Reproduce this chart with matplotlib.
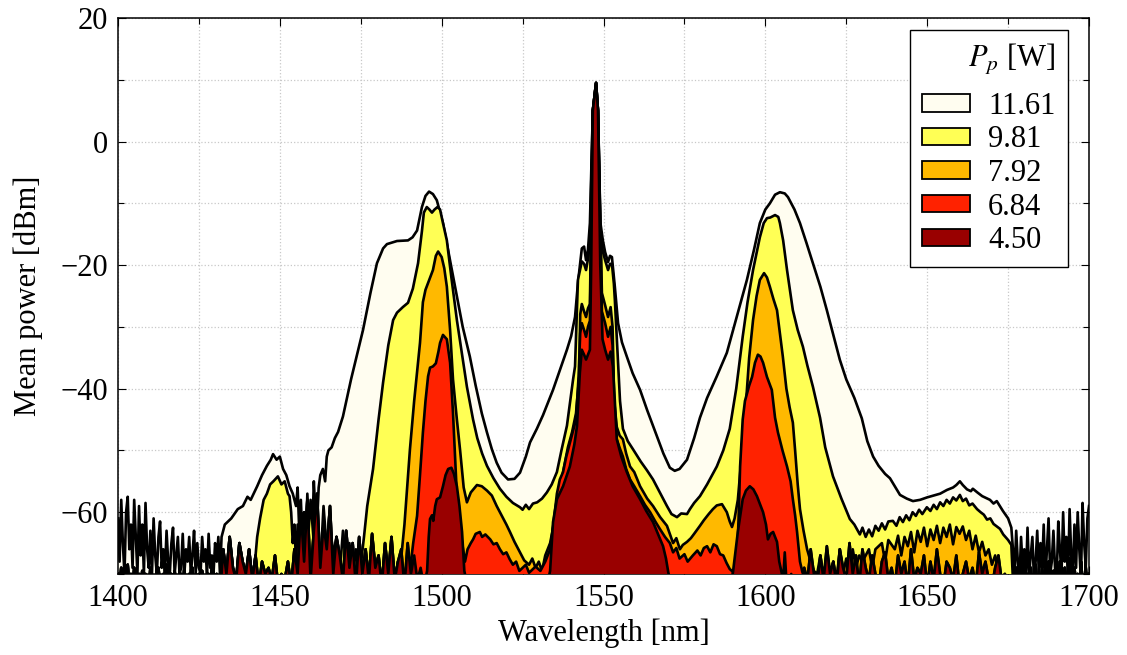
import numpy as np
import matplotlib
matplotlib.use("Agg")
import matplotlib.pyplot as plt
from matplotlib.patches import Patch
from matplotlib.ticker import MultipleLocator

plt.rcParams['font.family'] = ['Liberation Serif', 'DejaVu Serif']
plt.rcParams['mathtext.fontset'] = 'stix'
plt.rcParams['axes.unicode_minus'] = True

# pump powers and fill colours (largest drawn first, at the back)
powers = ['11.61', '9.81', '7.92', '6.84', '4.50']
colors = ['#FFFDF0', '#FFFF55', '#FFB900', '#FF2200', '#990000']

# noise floor pieces (dBm)
noise_left = [-61, -68, -58, -65, -70, -60, -57.5, -66, -62, -69, -58, -64, -70, -59, -67, -62,
              -70, -58.5, -66, -69, -63, -70, -61, -67, -70, -64, -61.5, -69, -66, -70, -63, -68,
              -70, -65, -62.5, -70, -67, -64, -70, -69, -63.5, -70, -66, -68, -64, -70, -67, -63,
              -70, -65, -69, -70, -64, -68, -66, -70, -63.5, -69, -67, -70, -65, -68, -64, -70, -66]
noise_left_low = [-70, -72, -69, -71, -73, -70, -68.5, -72, -70, -73, -69, -71, -73, -70, -72, -69.5,
                  -73, -70, -71.5, -73, -69, -72, -70.5, -73, -71, -69, -72, -73, -70, -72, -68.5, -73,
                  -71, -70, -73, -69.5, -72, -71, -73, -70, -72, -69, -73, -71, -70, -72.5, -69, -73,
                  -71, -72, -70, -73, -69.5, -72, -71, -73, -70, -72, -69, -73, -71, -70, -72, -73, -70]
floor_l = [-66, -70, -64, -69, -71, -65, -68, -70, -66, -71, -67, -72, -68, -70, -69, -71,
           -67, -72, -70, -71, -68, -72, -66, -70, -60, -68, -58, -71, -63, -57, -69, -62,
           -66, -59, -70, -64, -67, -71, -63, -69, -65, -72, -64, -70, -66, -71, -63.5, -69,
           -67, -72, -65, -70, -64, -71, -68, -66, -72, -65, -70, -67, -71, -69, -72]
floor_r = [-71, -72, -70, -72, -71, -72, -69, -71, -66, -70, -72, -67, -71, -65.5, -70, -68,
           -72, -66, -69, -71, -65, -70, -67, -72, -66, -69, -71, -67, -70, -72, -68, -66.5,
           -71, -69, -72, -67, -70, -68, -72, -66, -71, -69, -70, -67, -72, -68, -71, -66,
           -70, -72, -68, -69, -71, -67, -72, -70, -68, -71, -69, -72, -66.5, -70, -68, -71,
           -72, -69, -67, -71, -70, -72]
noise_right = [-66, -70, -63, -68, -71, -64, -69, -66, -71, -62.5, -70, -67, -64, -71, -68, -63,
               -70, -65, -69, -62, -71, -66, -61, -70, -68, -63, -69, -71, -61.5, -66, -70, -60,
               -68, -64, -71, -59.5, -67, -70, -62, -69, -60, -66, -71, -58.5, -65, -69, -61, -59]
noise_right_low = [-71, -73, -69, -72, -70, -73, -68, -71, -73, -70, -72, -69, -73, -71, -68.5, -72,
                   -70, -73, -69, -72, -71, -73, -68, -71, -72, -69.5, -73, -70, -72, -68, -71, -73,
                   -69, -72, -70, -67.5, -73, -71, -69, -72, -70, -73, -68, -71, -72, -69, -73, -70]

noise_left_x = 1400 + 0.5 * np.arange(len(noise_left))
floor_l_x = 1432.5 + np.arange(len(floor_l))
floor_r_x = 1606 + np.arange(len(floor_r))
noise_right_x = 1676.5 + 0.5 * np.arange(len(noise_right))

# main parts of each spectrum: wavelength [nm], mean power [dBm]
p1161_x = [1432, 1433, 1435, 1437, 1438.6, 1440, 1441, 1443, 1444.5, 1446, 1447.2, 1447.9, 1449, 1450,
           1451, 1452, 1453, 1454, 1455, 1455.5, 1456, 1456.5, 1457, 1457.5, 1458, 1458.5, 1459, 1459.5,
           1460, 1460.5, 1461, 1461.5, 1462, 1462.5, 1463.3, 1464, 1464.5, 1465, 1466, 1467, 1468, 1469.5,
           1472, 1475.7, 1478, 1480, 1481.9, 1483.1, 1486.2, 1489.6, 1491, 1492.4, 1493.9, 1495, 1496.1,
           1497.3, 1498.5, 1500.4, 1502.5, 1504.7, 1506.5, 1508.7, 1510.5, 1512.4, 1514, 1515.5, 1517,
           1518.5, 1520.5, 1522.5, 1524.2, 1526, 1527.3, 1529.4, 1531.3, 1534.4, 1536.5, 1538.7, 1540,
           1541.2, 1542.1, 1543.3, 1544, 1544.6, 1545.2, 1545.8, 1546.7, 1547.7, 1548.3, 1549, 1549.8,
           1550.5, 1551.4, 1552, 1552.6, 1553.5, 1554.5, 1555.7, 1557.2, 1559, 1561.3, 1563.5, 1566.5,
           1568.5, 1570.5, 1572, 1573.5, 1575.8, 1578, 1579.8, 1582, 1585, 1588.1, 1591, 1594.3, 1596.5,
           1598.3, 1600, 1601.4, 1603, 1604.5, 1606, 1607, 1609, 1610.7, 1612.7, 1614.7, 1617, 1619, 1621,
           1623, 1625, 1627.5, 1629.8, 1631.5, 1633.3, 1635, 1637, 1638.5, 1640, 1641.6, 1643.7, 1645.6,
           1647.8, 1650, 1652, 1654, 1656.1, 1658, 1659, 1660.1, 1661, 1662.3, 1663.5, 1664.1, 1665.5, 1667,
           1669.4, 1670.5, 1671.5, 1673.4, 1675, 1676]
p1161_y = [-64, -62, -61, -59.5, -59, -57.5, -58, -55.8, -54, -52.5, -51.5, -50.6, -51.5, -51,
           -53, -54, -55.8, -57, -59, -56, -63, -58, -65, -60, -66, -57, -63, -61,
           -64, -55, -60, -62, -56, -54, -53, -55, -51, -50, -49.5, -48, -47, -44.5,
           -38.5, -30.5, -24.5, -19.7, -17.3, -16.6, -16.1, -16.0, -15.5, -14.4, -10.6, -8.8, -8.1,
           -8.5, -9.5, -13.2, -19, -25.1, -30, -34.8, -39.5, -44.0, -47.1, -49.8, -52,
           -53.6, -54.7, -54.6, -53.6, -51, -48.7, -46.5, -44.3, -40.2, -37, -33.7, -31.5,
           -28.4, -22.9, -17.3, -17.0, -19.2, -17.5, -13.2, 5, 9.5, 5, -13, -16,
           -17.9, -19.5, -18.5, -18.7, -23.5, -29.4, -32.5, -34.8, -37.5, -40.2, -43.5, -47.7,
           -50.5, -52.8, -53.3, -53, -51.5, -48, -44.7, -41.5, -38, -34.2, -28.7, -22.4, -17.5,
           -13.2, -11, -10, -8.6, -8.2, -8.4, -9, -11, -13.2, -16.4, -19.7, -23.5, -27.3, -31.3,
           -35.3, -38.5, -41.5, -44.8, -48.5, -51, -52.5, -53.8, -54.5, -55.8, -57.2, -57.8, -58.2,
           -58.0, -57.6, -57.3, -57.0, -56.4, -56.0, -55.6, -55.0, -55.6, -56.3, -56.6, -56.2, -56.8, -57.4,
           -58.0, -58.6, -58.2, -59.8, -61, -62.5]

p981_x = [1443, 1443.9, 1445, 1446, 1447, 1448, 1449.4, 1450.5, 1451.5, 1452.5, 1453, 1453.5, 1454,
          1454.5, 1455, 1455.5, 1456.5, 1457.5, 1458.5, 1459.5, 1460.5, 1461.5, 1462.5, 1463.5, 1464.5,
          1465.5, 1466.5, 1467.5, 1468.5, 1469.5, 1470.5, 1471.5, 1472.5, 1473.5, 1474.3, 1474.8, 1476,
          1477, 1478.8, 1480.5, 1481.9, 1483.5, 1485, 1486.2, 1488, 1489.6, 1491.1, 1492.7, 1493.9,
          1494.5, 1495.4, 1496.2, 1497, 1497.8, 1498.7, 1499.5, 1500.4, 1501.6, 1503, 1504.7, 1506.3,
          1507.8, 1509.7, 1511, 1512.5, 1514, 1516, 1518, 1520, 1522, 1524.2, 1525, 1526, 1527, 1528.2,
          1529.5, 1531, 1532.5, 1534, 1535.6, 1537, 1538.7, 1540.6, 1541.2, 1541.8, 1542.1, 1543.3, 1544,
          1544.6, 1545.2, 1545.8, 1546.7, 1547.7, 1548.3, 1549, 1549.8, 1550.5, 1551.4, 1552, 1552.6,
          1553.2, 1553.5, 1554.5, 1555.1, 1556, 1557.5, 1559.1, 1561.5, 1563.4, 1565.3, 1567.4, 1569.6,
          1571, 1572.7, 1574, 1575.8, 1576.7, 1578, 1579.8, 1582, 1585, 1587, 1589, 1591, 1593, 1594.5,
          1596.2, 1598.3, 1599.5, 1600.5, 1601.5, 1603, 1604, 1604.5, 1605.5, 1606.7, 1608.5, 1610,
          1611.6, 1613, 1614.7, 1616.9, 1618.5, 1620.9, 1623.5, 1626.1, 1627.5, 1629.2, 1630, 1631, 1632,
          1633, 1634, 1635, 1636, 1637, 1638, 1639.4, 1640.5, 1641.5, 1642.5, 1643.5, 1644.5, 1645.5,
          1646.5, 1647.5, 1648.5, 1649.9, 1651, 1652, 1653, 1654, 1655, 1656, 1657, 1658, 1659, 1660.1,
          1661, 1662, 1663, 1664, 1665.4, 1666.5, 1667.5, 1668.5, 1669.5, 1670.5, 1671.5, 1672.5, 1673.5,
          1675, 1676]
p981_y = [-64, -61, -58, -57, -55.5, -55, -54.2, -55.5, -55, -57, -57.4, -60, -65,
          -62, -68, -62, -68, -60, -66, -58, -65, -61, -69, -59, -66,
          -62, -67, -64, -70, -63, -69, -65, -70, -66, -70, -69.5, -64,
          -59, -53, -45, -39, -33, -28.9, -27.7, -26.8, -26.1, -23.8, -19.7, -14.5,
          -11.5, -10.6, -11, -11.5, -11, -10.6, -11, -13.2, -16, -22, -28.9, -34.5,
          -39.7, -45, -48, -50.5, -52.5, -54.5, -56.2, -57.5, -58.5, -59.2, -59.6, -58.8, -59.5, -58.6,
          -58.4, -57.8, -56.8, -55.5, -53.5, -50, -46, -38.5, -36.4, -27, -22.4, -19.4, -19.8,
          -20.8, -19, -16.5, 5, 9.5, 5, -15, -17.8, -19.2, -20.8, -19.8, -19.8,
          -23, -25.6, -35.8, -42, -46.5, -48.5, -49.8, -51.8, -53.2, -54.7, -56.8, -59,
          -60.3, -60.8, -60.2, -60.3, -59.5, -58.5, -57.4, -55.5, -52.6, -50, -46.5, -40, -31.6, -26,
          -20.8, -15.5, -13.2, -12.4, -12.3, -11.9, -12.2, -13.2, -16, -20.8, -27.3, -30.5,
          -33.2, -36.3, -39.7, -44.7, -49.5, -54.2, -57.8, -61.1, -62, -63.6, -62.5, -64, -62.8,
          -63.9, -62.2, -63, -61.8, -62.8, -61.5, -61.4, -62.2, -60.8, -61.6, -60.5, -61.3, -60.0,
          -60.6, -59.6, -60.3, -59.2, -59.8, -58.8, -59.5, -58.4, -59.0, -58.0, -58.6, -57.6, -58.1, -57.2,
          -58.2, -57.8, -58.9, -58.6, -59.5, -60, -60.4, -61.2, -61, -61.9, -62.3, -62.7, -63.6,
          -64.5, -65.3]

p792_x = [1487.1, 1488.5, 1490.2, 1491.5, 1493.3, 1494.2, 1495, 1495.8, 1497.3, 1498.2, 1498.9, 1500,
          1500.8, 1501.6, 1502.6, 1503.5, 1504.7, 1505.7, 1506.8, 1507.8, 1509, 1510.9, 1512.4, 1514,
          1515.5, 1517, 1518.5, 1520, 1521.1, 1522.5, 1524.2, 1525.5, 1527, 1528, 1529, 1530, 1531, 1532,
          1533.5, 1535, 1536.5, 1537.5, 1539, 1540.3, 1541.5, 1542.5, 1542.8, 1543.3, 1544, 1544.6,
          1545.2, 1545.8, 1546.7, 1547.7, 1548.3, 1549.5, 1550.5, 1551.4, 1552.2, 1552.8, 1553.3, 1554.1,
          1555, 1556, 1557, 1558.2, 1559.5, 1561.3, 1563.5, 1565.3, 1567.5, 1569.6, 1571.5, 1572.5,
          1573.6, 1574.5, 1575.8, 1577, 1578, 1579.8, 1581, 1582.5, 1583.8, 1585, 1586.6, 1588.1, 1589,
          1589.7, 1590.5, 1591.5, 1592.5, 1593.7, 1595, 1596.2, 1597.3, 1598.3, 1599.6, 1600.5, 1601.4,
          1602.5, 1603.6, 1604.5, 1605.4, 1606.5, 1607.5, 1608.5, 1609.2, 1610, 1610.7, 1611.8, 1612.9,
          1614, 1615, 1616, 1617, 1618, 1619, 1620, 1621, 1622, 1623, 1624, 1625, 1626, 1627, 1628, 1629,
          1630, 1632, 1633, 1634, 1636, 1637, 1638, 1640, 1641, 1642, 1643, 1644, 1645, 1646, 1647,
          1648, 1649, 1650, 1651, 1652, 1653, 1654, 1655, 1656, 1657, 1658, 1659, 1660, 1661, 1662,
          1663, 1664, 1665, 1666, 1667, 1668, 1669, 1670, 1671, 1672]
p792_y = [-69.5, -62, -49.8, -42, -32.6, -26, -24, -22.9, -20.8, -18.5, -17.8, -18.7,
          -20.5, -23.5, -30.5, -38.5, -45, -50, -56, -58.4, -56.8, -55.6, -55.8, -56.5,
          -57.3, -59, -60.5, -62, -63.2, -64.8, -66.5, -67.8, -68.5, -67.5, -69, -68, -69.5, -67,
          -65, -61, -56.5, -53.5, -49.5, -47, -44, -38, -28, -26.3, -27.5, -28.4,
          -27, -26.3, 5, 9.5, 5, -24.5, -26.5, -28.4, -26.8, -30, -42, -46.2,
          -47.6, -48.2, -50.5, -52.6, -53.5, -55.8, -57.8, -59, -60.8, -62.2, -65, -64.2,
          -66, -65.3, -64.8, -64.2, -63.5, -62.2, -61.3, -60.3, -59.5, -58.9, -58.7, -60, -61.5,
          -62.4, -61, -58, -52, -44.7, -35, -28.9, -25, -22.4, -21.3, -22, -23.5,
          -25.5, -27.3, -31, -34.8, -40, -43, -45.5, -50, -55.5, -59.5, -63, -66,
          -68, -69.5, -70, -67, -71, -66.5, -70, -68, -71, -66, -70, -67.5, -71, -66, -69, -67,
          -68, -66, -69, -66, -65, -68, -64.5, -66, -63.8, -67, -64, -65.5, -63.2, -66.5, -63,
          -64.8, -62.5, -65.5, -62.8, -64.5, -62.2, -65, -62.5, -64, -62, -65.2, -62.4, -63.5, -62.3, -64.5,
          -63, -66, -63.8, -66.5, -64.8, -67, -66, -68.5, -67, -69.5]

p684_x = [1490.2, 1491.2, 1492.4, 1493.3, 1494.2, 1495, 1495.8, 1496.4, 1497.3, 1498.2, 1499, 1499.5,
          1500.4, 1501.6, 1502.6, 1503.5, 1504.3, 1505, 1506.3, 1507.2, 1508, 1509, 1509.7, 1510.5,
          1511.8, 1512.5, 1513.5, 1515, 1516, 1517, 1518, 1519, 1520, 1521, 1522, 1523, 1524, 1526, 1527,
          1529, 1530.5, 1532, 1533.5, 1534.5, 1535.6, 1536.5, 1537.5, 1538.5, 1540, 1541.5, 1542.3,
          1542.8, 1543.3, 1544, 1544.6, 1545.2, 1545.8, 1546.7, 1547.7, 1548.3, 1549.5, 1550.5, 1551.4,
          1552.2, 1552.8, 1553.3, 1554.1, 1555, 1556, 1557, 1558.2, 1559.5, 1561.3, 1562.8, 1564.4, 1566,
          1567.4, 1569, 1570.5, 1571.5, 1572.5, 1573.5, 1575, 1576, 1577.6, 1579, 1580, 1581, 1582, 1583,
          1584, 1585, 1586, 1587, 1588, 1589, 1590.3, 1591.2, 1591.8, 1592.2, 1593, 1593.7, 1595, 1595.9,
          1596.8, 1597.7, 1598.5, 1599.3, 1600.5, 1602, 1603, 1603.9, 1605.3, 1606.7, 1607.8, 1608.5,
          1609.2, 1609.8, 1610.7, 1611.5]
p684_y = [-69.5, -65, -60.6, -54, -47.1, -42, -38, -36.6, -36.4, -35.9, -34, -32.6,
          -31.3, -32, -35.8, -43.9, -53, -60.6, -64.9, -68, -66, -65, -64.4, -63.5,
          -63.2, -64, -63.6, -64.4, -65.2, -65, -66, -66.8, -66.5, -67.6, -68.5, -68, -69.5, -68.5, -69.8,
          -68.8, -69.5, -68, -66, -62, -57, -54.7, -53.5, -51, -48, -45, -38,
          -31, -29.4, -30.5, -31.6, -30, -29, 5, 9.5, 5, -27.5, -29.4, -31.6,
          -30, -33, -44, -48.2, -49.6, -51, -53, -54.7, -55.8, -57.4, -58.8, -60, -61.5,
          -62.7, -64, -65, -66.5, -65.8, -67.5, -66.8, -68, -67, -66.2, -67, -65.8, -65.5, -66.5,
          -65.2, -65.5, -66.8, -67, -68.2, -69.2, -69.8, -68.5, -60, -52.6, -45, -42, -39.5, -38.1,
          -35.8, -34.5, -34.8, -35.8, -38.1, -40.2, -44.7, -47.1, -50, -52.6, -55, -57.9,
          -60.5, -63.2, -68, -69.8]

p450_x = [1495.5, 1496, 1496.4, 1497, 1497.4, 1498, 1498.5, 1499.5, 1500.4, 1501.2, 1502, 1503,
          1503.8, 1504.7, 1505.5, 1506.3, 1507, 1508, 1532.5, 1533.5, 1534.4, 1535.6, 1537.5, 1539.6,
          1541, 1541.8, 1542.7, 1543.3, 1544, 1544.6, 1545.2, 1545.8, 1546.2, 1546.7, 1547.7, 1548.3,
          1549, 1549.7, 1550.5, 1551.4, 1552.2, 1552.9, 1553.5, 1554.1, 1555.5, 1557.2, 1559, 1561.3,
          1563.2, 1565.3, 1566.8, 1568.4, 1569.3, 1570, 1571, 1589, 1590, 1591.5, 1593, 1594, 1595.2,
          1596.3, 1597.4, 1599.3, 1600.2, 1600.8, 1601.6, 1602.4, 1603.6, 1604.3, 1605, 1605.5, 1606,
          1606.5]
p450_y = [-69.5, -64, -61.1, -60.5, -61.4, -59, -57.9, -57.6, -55.8, -54, -53, -52.8,
          -53.8, -55.8, -59, -63.2, -69.5, -72, -72, -69.5, -61.6, -57.9, -55.8, -52.6,
          -49, -46.1, -37.4, -33.7, -34.5, -35.3, -34.5, -33.7, -20, 5, 9.5, 5,
          -20, -32, -33.7, -35.3, -34, -36.4, -42, -48.2, -51, -53.5, -55.8, -57.9,
          -59.8, -61.6, -63.5, -65.5, -67.5, -69.7, -72, -72, -69.7, -63.2, -57.9, -56.5, -55.8,
          -56.3, -57.4, -60, -62, -64.4, -63.5, -63.2, -64.8, -68, -69.7, -71, -66.5,
          -71]


def build(main_x, main_y, low=False):
    # noise floor before and after the main part of a spectrum
    left = noise_left_low if low else noise_left
    right = noise_right_low if low else noise_right
    fx = np.concatenate([noise_left_x, floor_l_x, floor_r_x, noise_right_x])
    fy = np.concatenate([left, floor_l, floor_r, right])
    before = fx < main_x[0]
    after = fx > main_x[-1]
    x = np.concatenate([fx[before], main_x, fx[after]])
    y = np.concatenate([fy[before], main_y, fy[after]])
    return x, y


spectra = [build(p1161_x, p1161_y), build(p981_x, p981_y, low=True), build(p792_x, p792_y, low=True),
           build(p684_x, p684_y, low=True), build(p450_x, p450_y, low=True)]

fig = plt.figure(figsize=(11.27, 6.55), dpi=100)
ax = fig.add_axes([0.1047, 0.1237, 0.8616, 0.8488])

for i, (x, y) in enumerate(spectra):
    ax.fill_between(x, y, -75, facecolor=colors[i], edgecolor='none', zorder=2 + i)
    ax.plot(x, y, color='black', lw=1.9, zorder=2 + i)

ax.set_xlim(1400, 1700)
ax.set_ylim(-70, 20)
ax.xaxis.set_major_locator(MultipleLocator(50))
ax.xaxis.set_minor_locator(MultipleLocator(25))
ax.yaxis.set_major_locator(MultipleLocator(20))
ax.yaxis.set_minor_locator(MultipleLocator(10))
ax.set_axisbelow(True)
ax.grid(which='both', color='#C8C8C8', linestyle=':', lw=0.9, zorder=0)
ax.tick_params(which='both', direction='in', top=True, right=True, labelsize=22, pad=7)
ax.tick_params(which='major', length=6, width=0.8)
ax.tick_params(which='minor', length=4, width=0.8)
for sp in ax.spines.values():
    sp.set_linewidth(1.1)

ax.set_xlabel('Wavelength [nm]', fontsize=22, labelpad=4)
ax.set_ylabel('Mean power [dBm]', fontsize=22, labelpad=13)

handles = [Patch(facecolor=c, edgecolor='black', lw=1.3) for c in colors]
leg = ax.legend(handles, powers, title='$P_p$ [W]', loc='upper right',
                bbox_to_anchor=(0.978, 0.978), borderaxespad=0, fontsize=22, title_fontsize=22,
                fancybox=False, framealpha=1, edgecolor='black', handlelength=1.55,
                handleheight=0.5, handletextpad=0.6, labelspacing=0.15, borderpad=0.4)
leg.get_frame().set_linewidth(1.0)
leg._legend_box.align = 'right'
leg._legend_box.sep = 0.15 * 22 + 7
leg.set_zorder(20)

fig.savefig('out.png', dpi=100)
